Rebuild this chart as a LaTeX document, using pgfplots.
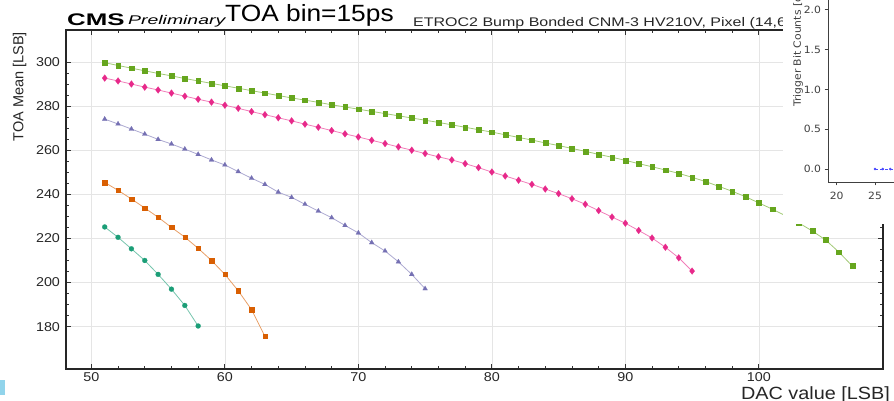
\documentclass[border=0pt]{standalone}
\usepackage{fontspec}
\setmainfont{Liberation Sans}[FakeStretch=1.12]
\newfontfamily\plainfont{Liberation Sans}
\newfontfamily\cmsfont{Liberation Sans}[FakeStretch=1.54]
\newfontfamily\etrocfont{Liberation Sans}[FakeStretch=1.28]
\newfontfamily\mplfont{DejaVu Sans}[FakeStretch=1.08]
\usepackage{pgfplots}
\usepackage{pgfplotstable}
\pgfplotsset{compat=1.18}

\definecolor{dteal}{HTML}{1B9E77}
\definecolor{dorange}{HTML}{D95F02}
\definecolor{dpurple}{HTML}{7570B3}
\definecolor{dpink}{HTML}{E7298A}
\definecolor{dgreen}{HTML}{66A61E}
\definecolor{cyanbox}{RGB}{145,212,235}

% DAC value vs TOA mean, one table per threshold curve
\pgfplotstableread{
x y
51 225.2
52 220.5
53 215.3
54 210.0
55 203.7
56 197.0
57 189.6
58 180.3
}\tealdata
\pgfplotstableread{
x y
51 245.4
52 241.8
53 237.9
54 233.8
55 229.6
56 225.0
57 220.6
58 215.5
59 210.0
60 203.7
61 196.3
62 187.7
63 175.6
}\orangedata
\pgfplotstableread{
x y
51 274.1
52 271.9
53 269.6
54 267.3
55 264.9
56 262.8
57 260.5
58 258.1
59 255.6
60 253.3
61 250.3
62 247.3
63 244.5
64 241.0
65 238.6
66 235.5
67 232.4
68 229.4
69 225.9
70 222.5
71 218.1
72 214.3
73 209.4
74 203.7
75 197.2
}\purpledata
\pgfplotstableread{
x y
51 292.7
52 291.4
53 290.0
54 288.6
55 287.3
56 285.9
57 284.5
58 283.1
59 281.8
60 280.4
61 279.0
62 277.5
63 276.1
64 274.7
65 273.3
66 271.8
67 270.4
68 268.9
69 267.4
70 266.0
71 264.5
72 263.0
73 261.5
74 260.0
75 258.5
76 257.0
77 255.6
78 253.9
79 252.1
80 250.1
81 248.3
82 246.4
83 244.5
84 242.4
85 240.3
86 238.0
87 235.5
88 232.6
89 229.7
90 226.9
91 223.6
92 220.2
93 216.0
94 211.2
95 205.2
}\pinkdata
\pgfplotstableread{
x y
51 299.7
52 298.4
53 297.2
54 296.0
55 294.8
56 293.7
57 292.5
58 291.4
59 290.3
60 289.2
61 288.1
62 287.0
63 285.9
64 284.8
65 283.7
66 282.7
67 281.7
68 280.6
69 279.6
70 278.6
71 277.6
72 276.6
73 275.6
74 274.6
75 273.6
76 272.6
77 271.5
78 270.4
79 269.3
80 268.2
81 267.0
82 265.8
83 264.6
84 263.3
85 262.1
86 260.8
87 259.5
88 258.1
89 256.8
90 255.4
91 253.9
92 252.5
93 251.0
94 249.5
95 247.7
96 245.8
97 243.6
98 241.4
99 238.9
100 236.1
101 233.3
102 230.3
103 227.0
104 223.4
105 219.3
106 213.8
107 207.5
}\greendata

\begin{document}
\begin{tikzpicture}
\path[use as bounding box] (0,0) rectangle (894pt,401pt);
\fill[cyanbox] (0,6pt) rectangle (5pt,21pt);

\begin{axis}[
  at={(66pt,32pt)}, anchor=south west,
  scale only axis, width=817pt, height=339pt,
  xmin=48.1, xmax=109.3, ymin=160.8, ymax=314.5,
  xtick={50,60,...,100}, ytick={180,200,...,300},
  minor x tick num=4, minor y tick num=3,
  grid=major, major grid style={black!10, line width=0.6pt},
  axis line style={line width=1.2pt, black!85},
  major tick length=5pt, minor tick length=3pt,
  tick style={black!80, line width=0.8pt},
  tick label style={font=\fontsize{12.8}{14}\selectfont, text=black!85},
  yticklabel style={xshift=-2.5pt},
  /pgf/number format/assume math mode=true,
  xlabel={DAC value [LSB]}, ylabel={TOA Mean [LSB]},
  xlabel style={at={(axis description cs:1.0086,-0.0885)}, anchor=base east,
    inner sep=0pt, font=\fontsize{17.7}{20}\selectfont, text=black!85},
  ylabel style={at={(axis description cs:-0.0569,0.994)}, anchor=east,
    inner sep=0pt, font=\plainfont\fontsize{14.5}{17}\selectfont, text=black!85},
]
\addplot[dteal!60, line width=0.8pt, mark=*, mark size=2.5pt,
  mark options={fill=dteal, draw=dteal, line width=0.2pt}] table {\tealdata};
\addplot[dorange!60, line width=0.8pt, mark=square*, mark size=2.2pt,
  mark options={fill=dorange, draw=dorange, line width=0.2pt}] table {\orangedata};
\addplot[dpurple!60, line width=0.8pt, mark=triangle*, mark size=2.8pt,
  mark options={fill=dpurple, draw=dpurple, line width=0.2pt}] table {\purpledata};
\addplot[dpink!60, line width=0.8pt, mark=diamond*, mark size=3.4pt,
  mark options={fill=dpink, draw=dpink, line width=0.2pt}] table {\pinkdata};
\addplot[dgreen!60, line width=0.8pt, mark=square*, mark size=2.4pt,
  mark options={fill=dgreen, draw=dgreen, line width=0.2pt}] table {\greendata};
\end{axis}

\node[anchor=base west, inner sep=0pt] at (67pt,375pt)
  {\cmsfont\bfseries\fontsize{16.8}{18}\selectfont CMS};
\node[anchor=base west, inner sep=0pt] at (128pt,376pt)
  {\cmsfont\itshape\fontsize{12.6}{14}\selectfont Preliminary};
\node[anchor=base west, inner sep=0pt] at (225pt,379.3pt)
  {\fontsize{23.5}{26}\selectfont TOA bin=15ps};
\node[anchor=base west, inner sep=0pt, text=black!85] at (413pt,374.3pt)
  {\etrocfont\fontsize{12.5}{14}\selectfont ETROC2 Bump Bonded CNM-3 HV210V, Pixel (14,6)};

% pasted inset from another plot
\fill[white] (783pt,177pt) rectangle (900pt,410pt);
\begin{axis}[
  at={(828pt,219pt)}, anchor=south west,
  scale only axis, width=150pt, height=250pt,
  xmin=18.87, xmax=38.43, ymin=-0.163, ymax=2.978,
  xtick={20,25,30,35}, ytick={0,0.5,...,2.5},
  tick pos=left, tick align=outside,
  major tick length=3.5pt,
  axis line style={black!75, line width=0.8pt},
  tick style={black!75, line width=0.8pt},
  yticklabel style={/pgf/number format/.cd, fixed, fixed zerofill, precision=1},
  xticklabel style={yshift=-3pt},
  tick label style={font=\mplfont\fontsize{10}{12}\selectfont, text=black!75},
  /pgf/number format/assume math mode=true,
  ylabel={Trigger Bit Counts [decimal]},
  ylabel style={at={(axis description cs:-0.2,0.3)}, anchor=west, inner sep=0pt,
    font=\mplfont\fontsize{10}{12}\selectfont, text=black!75},
]
\addplot[blue!70, densely dashed, line width=0.7pt, mark=*, mark size=0.9pt,
  mark options={solid}] coordinates {(25,0) (26,0) (27,0) (28,0) (29,0)};
\end{axis}
\end{tikzpicture}
\end{document}
